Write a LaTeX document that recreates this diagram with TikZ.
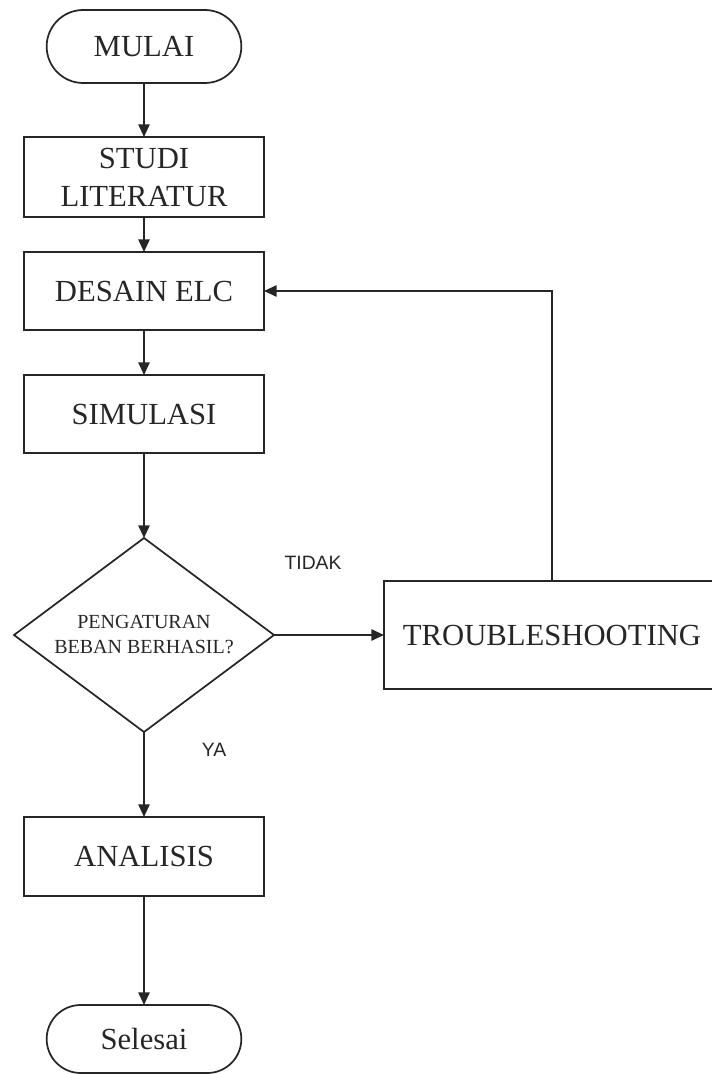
\documentclass[tikz,border=0pt]{standalone}
\usepackage{fontspec}
\setmainfont{Liberation Serif}
\setsansfont{Liberation Sans}
\usetikzlibrary{positioning, arrows.meta, shapes.geometric, shapes.misc}

\begin{document}
\begin{tikzpicture}[
  x=0.75pt, y=0.75pt,
  font=\fontsize{23}{28.5}\selectfont,
  line width=1.3pt, color=black!85,
  box/.style={draw, minimum width=180pt, minimum height=58.5pt,
    align=center, inner sep=0pt, outer sep=0pt},
  term/.style={draw, rounded rectangle, minimum width=146pt,
    minimum height=54.75pt, inner sep=0pt, outer sep=0pt},
  decision/.style={draw, diamond, aspect=1.34, minimum width=195pt,
    minimum height=145.5pt, inner sep=0pt, outer sep=0pt, align=center,
    font=\fontsize{15}{18.75}\selectfont},
  lbl/.style={font=\sffamily\fontsize{14.5}{17}\selectfont, inner sep=0pt},
  arrow/.style={-{Triangle[length=9.5pt, width=8.5pt]}},
]
  \useasboundingbox (0,0) rectangle (712,-1074);

  \node[term] (mulai) at (144,-46.5) {MULAI};
  \node[box, below=40.5pt of mulai, minimum height=60pt] (studi) {STUDI\\LITERATUR};
  \node[box, below=26.25pt of studi]    (desain)   {DESAIN ELC};
  \node[box, below=33.75pt of desain]   (simulasi) {SIMULASI};
  \node[decision, below=63.75pt of simulasi] (cek) {PENGATURAN\\BEBAN BERHASIL?};
  \node[box, right=82.5pt of cek, minimum width=252pt, minimum height=81pt] (trouble) {TROUBLESHOOTING};
  \node[box, below=63.75pt of cek, minimum height=59.25pt] (analisis) {ANALISIS};
  \node[term, below=81.75pt of analisis, minimum height=51pt] (selesai) {Selesai};

  \draw[arrow] (mulai)    -- (studi);
  \draw[arrow] (studi)    -- (desain);
  \draw[arrow] (desain)   -- (simulasi);
  \draw[arrow] (simulasi) -- (cek);
  \draw[arrow] (cek) -- node[lbl, pos=.355, above=48.75pt] {TIDAK} (trouble);
  \draw[arrow] (cek) -- node[lbl, pos=.21, right=42.75pt] {YA} (analisis);
  \draw[arrow] (trouble.north) |- (desain.east);
  \draw[arrow] (analisis) -- (selesai);
\end{tikzpicture}
\end{document}
